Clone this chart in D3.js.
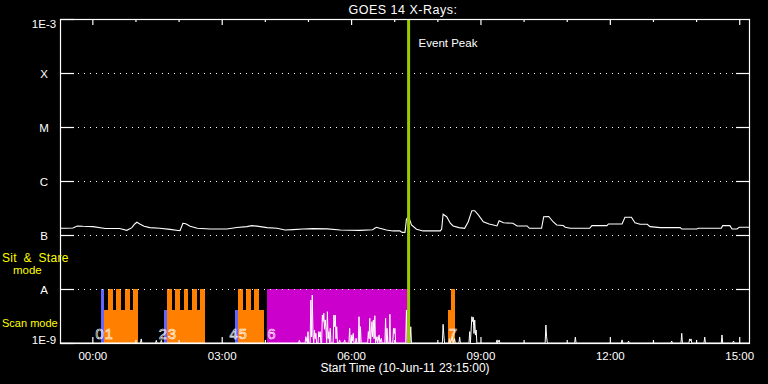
<!DOCTYPE html>
<html><head><meta charset="utf-8">
<script src="https://cdn.jsdelivr.net/npm/d3@7"></script>
<style>
html,body{margin:0;padding:0;background:#000;}
svg{display:block;}
text{font-family:"Liberation Sans",Arial,sans-serif;}
</style>
</head><body>
<svg id="chart" width="768" height="384"></svg>
<script>
// ---------- data ----------
const chartTitle = "GOES 14 X-Rays:";
const xAxisTitle = "Start Time (10-Jun-11 23:15:00)";
const eventLabel = "Event Peak";
// times are minutes from 11-Jun-11 00:00 UT
const timeDomain = [-45, 915];
const xMajorTicks = [0, 180, 360, 540, 720, 900];
const xTickLabels = ["00:00", "03:00", "06:00", "09:00", "12:00", "15:00"];
const xMinorTicks = [60, 120, 240, 300, 420, 480, 600, 660, 780, 840];
const yTickValues = [1e-9, 1e-8, 1e-7, 1e-6, 1e-5, 1e-4, 1e-3];
const yTickLabels = ["1E-9", "A", "B", "C", "M", "X", "1E-3"];
const classLevels = [1e-8, 1e-7, 1e-6, 1e-5, 1e-4];
const eventPeak = 440;
const modeNames = ["stare", "scan"];
const modeLevels = [1e-8, 4.08e-9];
const modeText = [["Sit & Stare", "mode"], ["Scan mode"]];

// long-wavelength GOES channel [minute, W/m^2]
const longChannel = [
 [-45,1.33e-7],[-37,1.33e-7],[-27,1.35e-7],[-21,1.47e-7],[-13,1.45e-7],[1,1.43e-7],[18,1.32e-7],[38,1.32e-7],
 [48,1.22e-7],[55,1.37e-7],[59,1.60e-7],[62,1.72e-7],[66,1.60e-7],[72,1.45e-7],[80,1.37e-7],[94,1.33e-7],
 [108,1.27e-7],[122,1.20e-7],[126,1.65e-7],[130,1.62e-7],[136,1.45e-7],[146,1.33e-7],[164,1.29e-7],[187,1.29e-7],
 [201,1.38e-7],[215,1.43e-7],[222,1.49e-7],[229,1.46e-7],[243,1.37e-7],[257,1.33e-7],[268,1.24e-7],[279,1.26e-7],
 [293,1.29e-7],[307,1.31e-7],[327,1.30e-7],[345,1.24e-7],[372,1.22e-7],[390,1.25e-7],[395,1.39e-7],[400,1.33e-7],
 [404,1.29e-7],[409,1.24e-7],[418,1.19e-7],[428,1.19e-7],[431,1.12e-7],[435,1.12e-7],[437,1.95e-7],[440,2.18e-7],
 [444,1.53e-7],[451,1.28e-7],[460,1.19e-7],[473,1.19e-7],[484,1.19e-7],[486,1.28e-7],[488,2.42e-7],[493,2.18e-7],
 [498,1.65e-7],[502,1.47e-7],[510,1.37e-7],[518,1.33e-7],[523,1.76e-7],[528,2.82e-7],[532,2.82e-7],[537,2.35e-7],
 [544,1.76e-7],[552,1.60e-7],[558,1.53e-7],[563,1.47e-7],[566,1.84e-7],[572,1.69e-7],[585,1.65e-7],[591,1.47e-7],
 [605,1.47e-7],[608,1.33e-7],[625,1.33e-7],[628,2.18e-7],[635,2.20e-7],[641,1.76e-7],[646,1.53e-7],[655,1.50e-7],
 [658,1.39e-7],[665,1.33e-7],[692,1.33e-7],[695,1.49e-7],[716,1.49e-7],[718,1.60e-7],[737,1.60e-7],[741,2.13e-7],
 [750,2.13e-7],[755,1.69e-7],[762,1.58e-7],[772,1.58e-7],[776,1.43e-7],[790,1.37e-7],[818,1.37e-7],[820,1.29e-7],
 [841,1.29e-7],[843,1.33e-7],[875,1.33e-7],[877,1.49e-7],[887,1.49e-7],[890,1.29e-7],[897,1.29e-7],[900,1.39e-7],
 [915,1.39e-7]
];

// short-wavelength GOES channel [minute, W/m^2] (floor of plot = 1e-9)
const shortChannel = [
 [-45,1e-9],[67,1e-9],[68,1.19e-9],[69,1e-9],[88,1e-9],[89,1.12e-9],[90,1e-9],[95,1e-9],[96,1.12e-9],[97,1e-9],
 [287,1e-9],[288,1.12e-9],[289,1e-9],[296,1e-9],[297,1.31e-9],[299,1e-9],[300,1.62e-9],[301,1e-9],[303,1e-9],
 [304,6.25e-9],[305,1.3e-9],[306,7.74e-9],[307,1.4e-9],[308,1e-9],[309,1.74e-9],[310,1.2e-9],[311,1.51e-9],[312,1e-9],
 [314,1e-9],[315,1.62e-9],[316,1.3e-9],[317,1.62e-9],[318,1e-9],[319,1e-9],[320,3.3e-9],[321,2.5e-9],[322,3.55e-9],
 [323,1.8e-9],[324,2.67e-9],[325,1.9e-9],[326,1e-9],[327,3.8e-9],[328,1.2e-9],[329,1.62e-9],[330,1e-9],[331,1.87e-9],
 [332,1e-9],[335,1e-9],[336,3.3e-9],[337,2.0e-9],[338,3.3e-9],[339,1.2e-9],[340,2.0e-9],[341,1e-9],[343,1e-9],
 [344,1.14e-9],[345,1e-9],[350,1e-9],[351,1.14e-9],[352,1e-9],[357,1e-9],[358,1.87e-9],[359,1e-9],[361,1.41e-9],
 [362,1.1e-9],[363,1.51e-9],[364,1e-9],[366,1e-9],[367,1.22e-9],[368,1e-9],[370,1e-9],[371,3.07e-9],[372,1e-9],
 [373,2.0e-9],[374,1e-9],[383,1e-9],[384,1.62e-9],[385,1.2e-9],[386,2.87e-9],[387,1e-9],[389,2.48e-9],[390,1.3e-9],
 [391,2.67e-9],[392,1.2e-9],[393,3.2e-9],[394,1e-9],[396,1.31e-9],[397,1e-9],[399,1.41e-9],[400,1e-9],[402,1.22e-9],
 [403,1e-9],[407,1e-9],[408,2.87e-9],[409,1e-9],[410,1.87e-9],[411,1e-9],[413,1e-9],[414,3.4e-9],[415,1e-9],
 [418,1e-9],[419,1.87e-9],[420,1.5e-9],[421,1.87e-9],[422,1e-9],[436,1e-9],[437,4.08e-9],[438,1e-9],[442,1e-9],
 [443,2.0e-9],[444,1e-9],[487,1e-9],[488,2.22e-9],[489,1.4e-9],[490,1e-9],[496,1e-9],[497,1.2e-9],[498,1e-9],
 [501,1.3e-9],[502,1e-9],[504,1.2e-9],[505,1e-9],[510,1e-9],[511,1.29e-9],[512,1e-9],[524,1e-9],[525,1.62e-9],
 [526,1e-9],[528,3.07e-9],[529,2.5e-9],[530,3.0e-9],[531,1.5e-9],[532,2.67e-9],[533,1.4e-9],[534,1.74e-9],[535,1e-9],
 [562,1e-9],[563,1.14e-9],[564,1e-9],[566,1.14e-9],[567,1e-9],[630,1e-9],[631,2.15e-9],[632,1.3e-9],[633,1e-9],
 [671,1e-9],[672,1.29e-9],[673,1e-9],[736,1e-9],[737,1.14e-9],[738,1e-9],[745,1e-9],[746,1.09e-9],[747,1e-9],
 [805,1e-9],[806,1.09e-9],[807,1e-9],[819,1e-9],[820,1.51e-9],[821,1e-9],[830,1e-9],[831,1.19e-9],[832,1.1e-9],
 [833,1.19e-9],[834,1e-9],[851,1e-9],[852,1.29e-9],[853,1e-9],[875,1e-9],[876,1.41e-9],[877,1e-9],[891,1e-9],
 [892,1.09e-9],[893,1e-9],[915,1e-9]
];

// observation segments: [start minute, end minute, mode, study type]
const obsSegments = [
 [12, 16, "stare", "cal"],
 [16, 63.5, "scan", "raster"],
 [22, 29, "stare", "raster"], [33, 39.5, "stare", "raster"], [45.5, 52, "stare", "raster"], [56, 63.5, "stare", "raster"],
 [100, 104, "scan", "cal"],
 [104, 157, "scan", "raster"],
 [104, 110.5, "stare", "raster"], [115, 122, "stare", "raster"], [127.5, 133.5, "stare", "raster"],
 [138.5, 145, "stare", "raster"], [150, 157, "stare", "raster"],
 [198.5, 202.5, "scan", "cal"],
 [202.5, 239, "scan", "raster"],
 [202.5, 209, "stare", "raster"], [214, 220.5, "stare", "raster"], [225, 231.5, "stare", "raster"],
 [242.5, 439, "stare", "sitstare"],
 [495, 504.5, "scan", "raster"],
 [499, 504.5, "stare", "raster"]
];
// observation numbers: [number, start minute, sits left of the next label?]
const obsLabels = [
 ["0", 12, true], ["1", 16, false],
 ["2", 100, true], ["3", 104, false],
 ["4", 198.5, true], ["5", 202.5, false],
 ["6", 242.5, false],
 ["7", 495, false]
];
const typeColors = {cal: "#6464ff", raster: "#ff8000", sitstare: "#cc00cc"};

// ---------- drawing ----------
const svg = d3.select("#chart");
svg.append("rect").attr("width", 768).attr("height", 384).attr("fill", "#000");

const L = 60, R = 750, T = 19, B = 343;
const x = d3.scaleLinear().domain(timeDomain).range([L, R]);
const y = d3.scaleLog().domain([1e-9, 1e-3]).range([B, T]);
const modeLevel = m => modeLevels[modeNames.indexOf(m)];

// observation bars
svg.append("g").selectAll("rect").data(obsSegments).join("rect")
  .attr("x", d => x(d[0]))
  .attr("width", d => x(d[1]) - x(d[0]))
  .attr("y", d => y(modeLevel(d[2])))
  .attr("height", d => y(1e-9) - y(modeLevel(d[2])))
  .attr("fill", d => typeColors[d[3]])
  .attr("shape-rendering", "crispEdges");

// dotted class grid
svg.append("g").selectAll("line").data(classLevels).join("line")
  .attr("x1", L).attr("x2", R)
  .attr("y1", d => Math.round(y(d)) + 0.5).attr("y2", d => Math.round(y(d)) + 0.5)
  .attr("stroke", "#fff").attr("stroke-dasharray", "1,5");

// curves
const line = d3.line().x(d => x(d[0])).y(d => y(Math.max(d[1], 1e-9)));
svg.append("path").datum(shortChannel).attr("d", line)
  .attr("fill", "none").attr("stroke", "#fff").attr("stroke-width", 1);
svg.append("path").datum(longChannel).attr("d", line)
  .attr("fill", "none").attr("stroke", "#fff").attr("stroke-width", 1.1);

// observation numbers (outlined digits)
svg.append("g").selectAll("text").data(obsLabels).join("text")
  .attr("x", (d, i) => d[2] ? x(obsLabels[i + 1][1]) - 0.3 : x(d[1]) + 0.8)
  .attr("text-anchor", d => d[2] ? "end" : "start")
  .attr("y", 339)
  .attr("font-size", 14.5).attr("fill", "none").attr("stroke", "#fff").attr("stroke-width", 0.6)
  .text(d => d[0]);

// event peak line
svg.append("line")
  .attr("x1", x(eventPeak)).attr("x2", x(eventPeak)).attr("y1", T).attr("y2", B)
  .attr("stroke", "#99cc00").attr("stroke-width", 3);
svg.append("text").attr("x", x(eventPeak) + 10).attr("y", 47)
  .attr("fill", "#fff").attr("font-size", 11.5).text(eventLabel);

// frame
svg.append("rect").attr("x", L + 0.5).attr("y", T + 0.5).attr("width", R - L - 1).attr("height", B - T)
  .attr("fill", "none").attr("stroke", "#fff").attr("stroke-width", 1.2);

// axes
function styleAxis(g) {
  g.select(".domain").remove();
  g.selectAll("line").attr("stroke", "#fff").attr("stroke-width", 1.2);
  g.selectAll("text").attr("fill", "#fff").attr("font-size", 11.5)
    .attr("font-family", "'Liberation Sans', Arial, sans-serif");
}
svg.append("g").attr("transform", `translate(0,${B})`)
  .call(d3.axisBottom(x).tickValues(xMajorTicks).tickSize(-6).tickPadding(9)
    .tickFormat((d, i) => xTickLabels[i]))
  .call(styleAxis);
svg.append("g").attr("transform", `translate(0,${B})`)
  .call(d3.axisBottom(x).tickValues(xMinorTicks).tickSize(-3).tickFormat(""))
  .call(styleAxis);
svg.append("g").attr("transform", `translate(0,${T})`)
  .call(d3.axisTop(x).tickValues(xMajorTicks).tickSize(-6).tickFormat(""))
  .call(styleAxis);
svg.append("g").attr("transform", `translate(0,${T})`)
  .call(d3.axisTop(x).tickValues(xMinorTicks).tickSize(-3).tickFormat(""))
  .call(styleAxis);

const leftAxis = svg.append("g").attr("transform", `translate(${L},0)`)
  .call(d3.axisLeft(y).tickValues(yTickValues).tickSize(-14).tickFormat((d, i) => yTickLabels[i]));
styleAxis(leftAxis);
leftAxis.selectAll("text").attr("text-anchor", "middle").attr("x", -16)
  .attr("dy", (d, i) => i === 0 ? "0.05em" : (i === yTickValues.length - 1 ? "0.7em" : "0.36em"));
svg.append("g").attr("transform", `translate(${R},0)`)
  .call(d3.axisRight(y).tickValues(classLevels).tickSize(-14).tickFormat(""))
  .call(styleAxis);

// titles
svg.append("text").attr("x", 403).attr("y", 14).attr("text-anchor", "middle")
  .attr("fill", "#fff").attr("font-size", 12.5).attr("letter-spacing", 0.5).text(chartTitle);
svg.append("text").attr("x", 405).attr("y", 372).attr("text-anchor", "middle")
  .attr("fill", "#fff").attr("font-size", 12).text(xAxisTitle);

// mode labels (yellow)
const modeG = svg.append("g").attr("fill", "#ffff00");
modeG.append("text").attr("x", 2).attr("y", 262).attr("font-size", 12)
  .attr("word-spacing", 3).attr("letter-spacing", 0.3).text(modeText[0][0]);
modeG.append("text").attr("x", 13).attr("y", 274).attr("font-size", 11.5).text(modeText[0][1]);
modeG.append("text").attr("x", 2).attr("y", 327).attr("font-size", 11).text(modeText[1][0]);
</script>
</body></html>
